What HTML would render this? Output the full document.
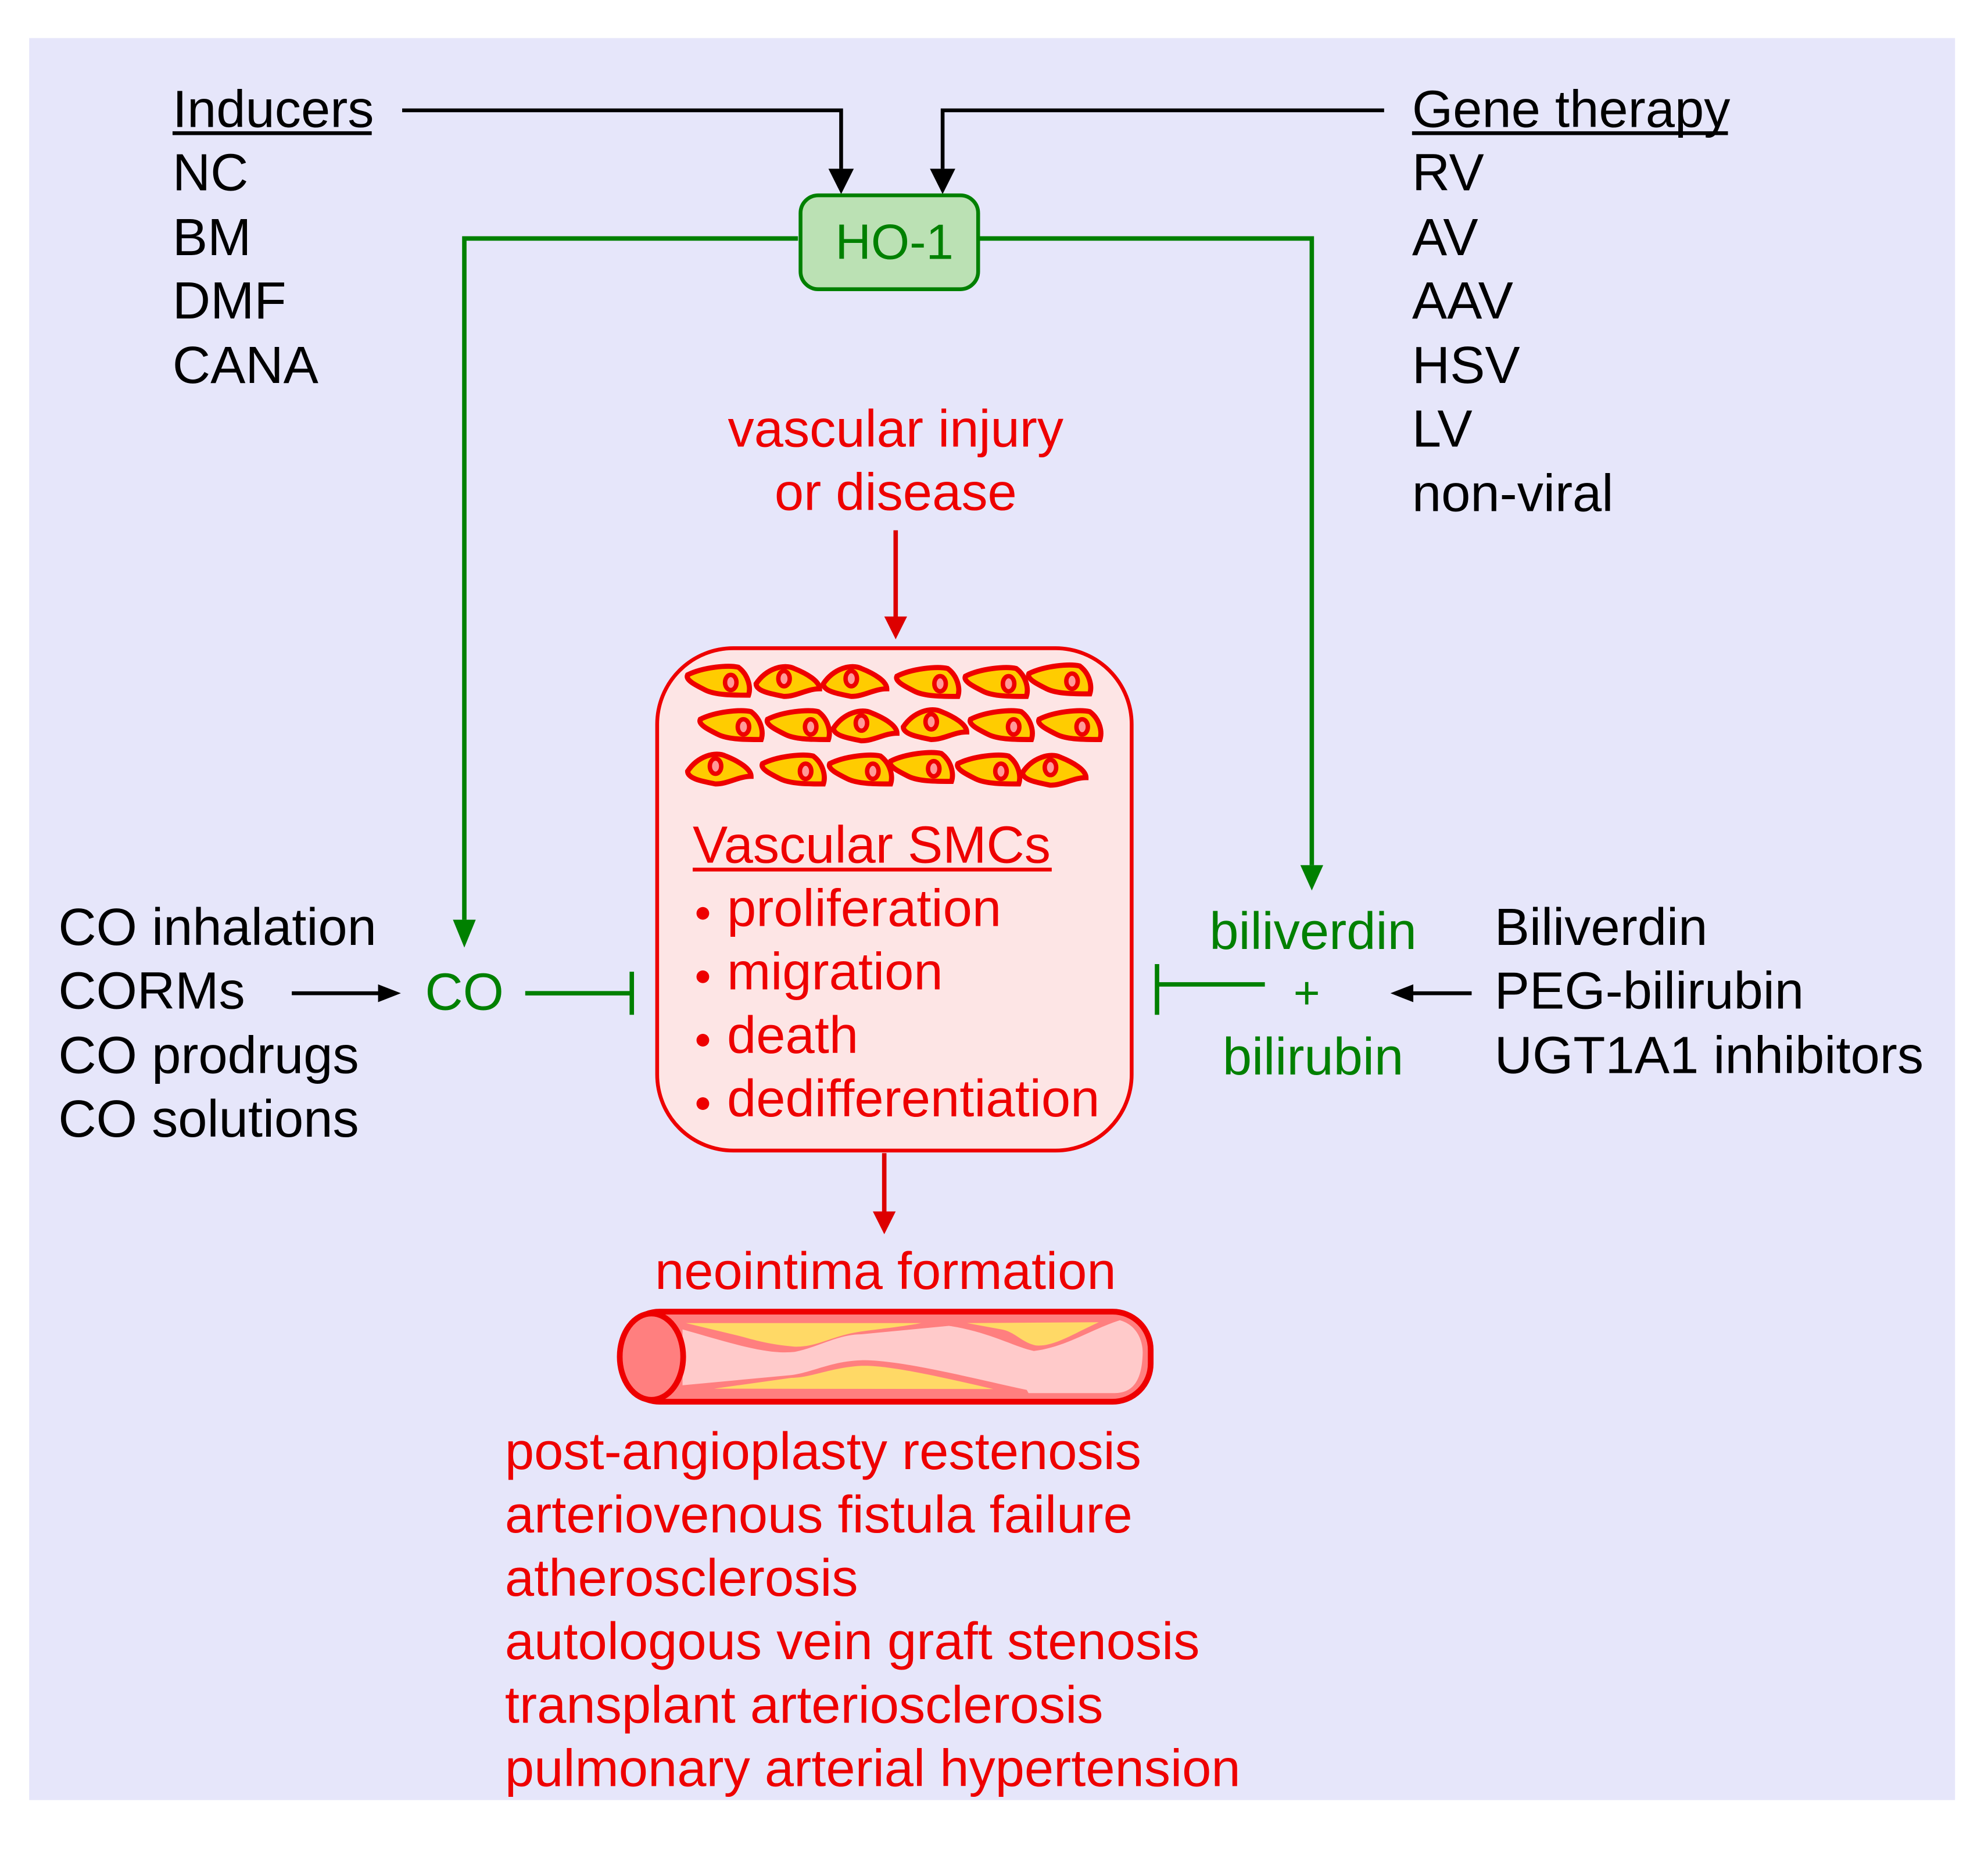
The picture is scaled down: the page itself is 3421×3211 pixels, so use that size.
<!DOCTYPE html>
<html><head><meta charset="utf-8"><style>html,body{margin:0;padding:0;background:#fff}svg{display:block}</style></head>
<body>
<svg width="3421" height="3211" viewBox="0 0 1567 1471" preserveAspectRatio="none" xmlns="http://www.w3.org/2000/svg" font-family="Liberation Sans, Arial, sans-serif" font-size="41.4">
<defs>
<g id="c1"><path d="M-26,-6 C-14,-12 6,-14 14,-12 C22,-6 24,4 22,10 C10,10 -4,10 -12,6 C-20,2 -28,-2 -26,-6 Z" fill="#ffcc00" stroke="#ee0000" stroke-width="4"/><ellipse cx="8" cy="0" rx="4.5" ry="6" fill="#ff9999" stroke="#ee0000" stroke-width="3.5"/></g>
<g id="c2"><path d="M-26,2 C-18,-10 -4,-14 4,-10 C14,-6 24,0 24,6 C14,6 6,12 -4,12 C-14,10 -26,8 -26,2 Z" fill="#ffcc00" stroke="#ee0000" stroke-width="4"/><ellipse cx="-4" cy="-2" rx="4.5" ry="6" fill="#ff9999" stroke="#ee0000" stroke-width="3.5"/></g>
</defs>
<rect x="23" y="30" width="1518" height="1389" fill="#e6e6fa"/>

<g fill="#000">
<text x="136" y="100">Inducers</text>
<rect x="136" y="103.5" width="157" height="3"/>
<text x="136" y="150">NC</text>
<text x="136" y="201">BM</text>
<text x="136" y="251">DMF</text>
<text x="136" y="302">CANA</text>
<text x="1113" y="100">Gene therapy</text>
<rect x="1113" y="103.5" width="249" height="3"/>
<text x="1113" y="150">RV</text>
<text x="1113" y="201">AV</text>
<text x="1113" y="251">AAV</text>
<text x="1113" y="302">HSV</text>
<text x="1113" y="352">LV</text>
<text x="1113" y="403">non-viral</text>
<text x="46" y="745">CO inhalation</text>
<text x="46" y="795">CORMs</text>
<text x="46" y="846">CO prodrugs</text>
<text x="46" y="896">CO solutions</text>
<text x="1178" y="745">Biliverdin</text>
<text x="1178" y="795">PEG-bilirubin</text>
<text x="1178" y="846">UGT1A1 inhibitors</text>
</g>

<g stroke="#000" stroke-width="3" fill="none">
<polyline points="317,87 663,87 663,133"/>
<polyline points="1091,87 743,87 743,133"/>
<line x1="230" y1="783" x2="300" y2="783"/>
<line x1="1160" y1="783" x2="1112" y2="783"/>
</g>
<g fill="#000">
<polygon points="653,133 673,133 663,153"/>
<polygon points="733,133 753,133 743,153"/>
<polygon points="298,776 316,783 298,790"/>
<polygon points="1114,776 1096,783 1114,790"/>
</g>

<g stroke="#008000" stroke-width="3.5" fill="none">
<polyline points="629,188 366,188 366,725"/>
<polyline points="772,188 1034,188 1034,682"/>
<line x1="414" y1="783" x2="498" y2="783"/>
<line x1="498" y1="766" x2="498" y2="800"/>
<line x1="997" y1="776" x2="912" y2="776"/>
<line x1="912" y1="760" x2="912" y2="800"/>
</g>
<g fill="#008000">
<polygon points="357,725 375,725 366,747"/>
<polygon points="1025,682 1043,682 1034,702"/>
</g>
<rect x="631" y="154" width="140" height="74" rx="14" fill="#bbe1b4" stroke="#008000" stroke-width="3"/>
<text x="705" y="204" text-anchor="middle" fill="#008000" font-size="39">HO-1</text>
<g fill="#008000">
<text x="335" y="796">CO</text>
<text x="1035" y="748" text-anchor="middle">biliverdin</text>
<text x="1030" y="795" text-anchor="middle" font-size="36">+</text>
<text x="1035" y="847" text-anchor="middle">bilirubin</text>
</g>

<g fill="#ee0000">
<text x="706" y="352" text-anchor="middle">vascular injury</text>
<text x="706" y="402" text-anchor="middle">or disease</text>
</g>
<line x1="706" y1="418" x2="706" y2="488" stroke="#dd0000" stroke-width="3.5"/>
<polygon points="697,486 715,486 706,504" fill="#dd0000"/>
<rect x="518" y="511" width="374" height="396" rx="60" fill="#fde5e5" stroke="#ee0000" stroke-width="3"/>
<line x1="697" y1="909" x2="697" y2="958" stroke="#dd0000" stroke-width="3.5"/>
<polygon points="688,955 706,955 697,973" fill="#dd0000"/>

<use href="#c1" x="568" y="538"/>
<use href="#c2" x="622" y="537"/>
<use href="#c2" x="675" y="537"/>
<use href="#c1" x="733" y="539"/>
<use href="#c1" x="787" y="539"/>
<use href="#c1" x="837" y="537"/>
<use href="#c1" x="578" y="573"/>
<use href="#c1" x="631" y="573"/>
<use href="#c2" x="683" y="572"/>
<use href="#c2" x="738" y="571"/>
<use href="#c1" x="791" y="573"/>
<use href="#c1" x="845" y="573"/>
<use href="#c2" x="568" y="606"/>
<use href="#c1" x="627" y="608"/>
<use href="#c1" x="680" y="608"/>
<use href="#c1" x="728" y="606"/>
<use href="#c1" x="781" y="608"/>
<use href="#c2" x="832" y="607"/>

<g fill="#ee0000">
<text x="546" y="680">Vascular SMCs</text>
<rect x="546" y="684" width="283" height="3"/>
<circle cx="554" cy="720" r="5"/><text x="573" y="730">proliferation</text>
<circle cx="554" cy="770" r="5"/><text x="573" y="780">migration</text>
<circle cx="554" cy="820" r="5"/><text x="573" y="830">death</text>
<circle cx="554" cy="870" r="5"/><text x="573" y="880">dedifferentiation</text>
<text x="698" y="1016" text-anchor="middle">neointima formation</text>
</g>

<rect x="490" y="1034" width="417" height="71" rx="30" fill="#ff7f7f" stroke="#ee0000" stroke-width="4.5"/>
<path d="M538,1048 C580,1060 605,1068 626.5,1065.7 C645,1062 660,1052 679,1051.8 L748,1045.2 C780,1050 800,1062 815,1065 C840,1062 860,1048 882.7,1040.8 C898,1045 901,1060 900.7,1067 C900,1090 892,1098 878.6,1098.2 L810.7,1098.2 L809.3,1095.7 C760,1085 710,1072 679,1072.3 C655,1073 640,1082 623.7,1084 L538,1092 Z" fill="#ffcaca"/>
<path d="M540.6,1043 L726.2,1043 C710,1046 690,1048 679.1,1049.6 C655,1053 645,1062 626.5,1061.6 C605,1060 590,1055 582,1053 Z" fill="#ffd966"/>
<path d="M762.2,1043 L866.1,1042.3 C845,1052 830,1062 816.2,1060.6 C805,1058 800,1050 789.9,1048.1 Z" fill="#ffd966"/>
<path d="M562.8,1094.7 L783,1095 C740,1085 700,1076 679.1,1076.7 C655,1078 640,1086 623.7,1086.2 Z" fill="#ffd966"/>
<ellipse cx="513.5" cy="1069.5" rx="25" ry="34" fill="#ff7f7f" stroke="#ee0000" stroke-width="4.5"/>

<g fill="#ee0000">
<text x="398" y="1158">post-angioplasty restenosis</text>
<text x="398" y="1208">arteriovenous fistula failure</text>
<text x="398" y="1258">atherosclerosis</text>
<text x="398" y="1308">autologous vein graft stenosis</text>
<text x="398" y="1358">transplant arteriosclerosis</text>
<text x="398" y="1408">pulmonary arterial hypertension</text>
</g>
</svg>
</body></html>
